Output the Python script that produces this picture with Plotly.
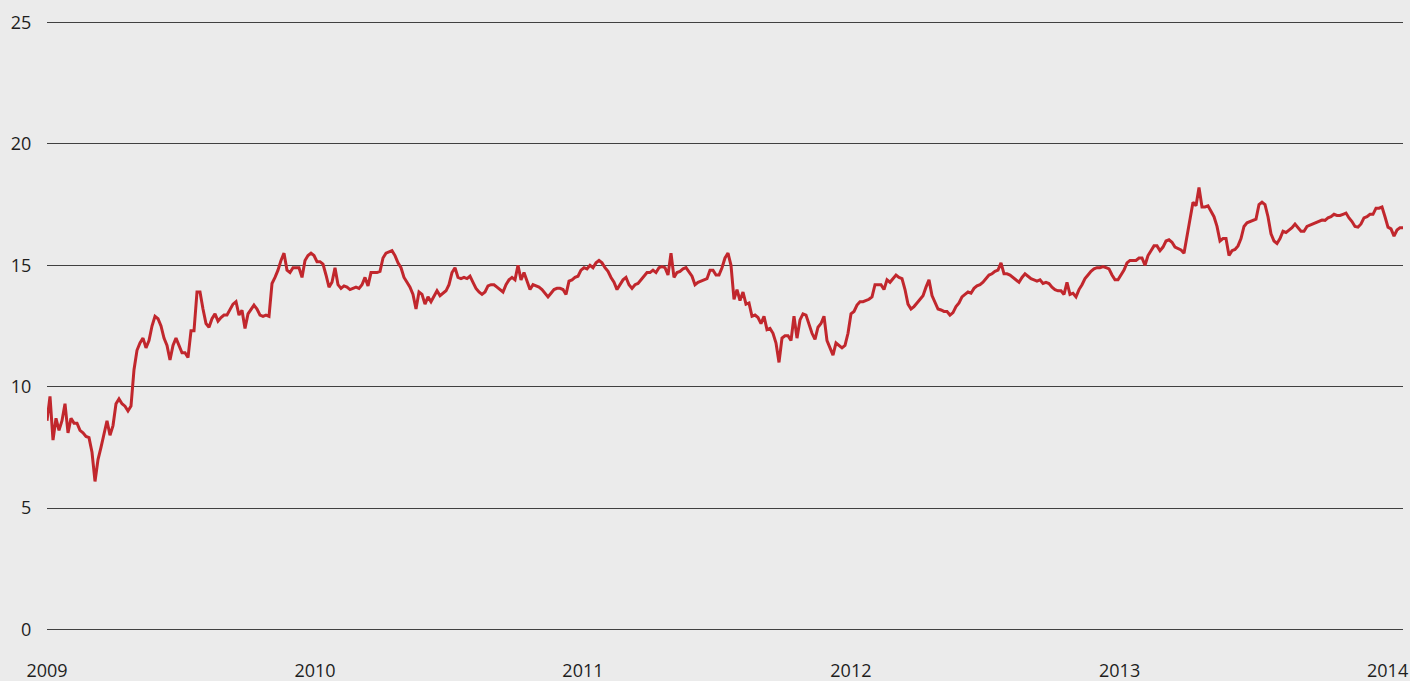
import pandas as pd
import plotly.graph_objects as go

# Share price (approx.), evenly spaced from 2009-01-01 to 2014-01-22
price = [
    8.6, 9.6, 7.8, 8.7, 8.2, 8.6, 9.3, 8.1, 8.7, 8.5,
    8.5, 8.2, 8.1, 7.95, 7.9, 7.3, 6.1, 7.0, 7.5, 8.0,
    8.6, 8.0, 8.4, 9.3, 9.5, 9.3, 9.2, 9.0, 9.2, 10.7,
    11.5, 11.8, 12.0, 11.6, 11.9, 12.5, 12.9, 12.8, 12.5, 12.0,
    11.7, 11.1, 11.7, 12.0, 11.7, 11.4, 11.4, 11.2, 12.3, 12.3,
    13.9, 13.9, 13.2, 12.6, 12.45, 12.8, 13.0, 12.7, 12.85, 12.95,
    12.95, 13.15, 13.4, 13.5, 12.95, 13.15, 12.4, 13.0, 13.2, 13.36,
    13.2, 12.95, 12.9, 12.95, 12.9, 14.25, 14.5, 14.8, 15.2, 15.5,
    14.8, 14.7, 14.9, 14.9, 14.9, 14.5, 15.2, 15.4, 15.5, 15.4,
    15.15, 15.15, 15.05, 14.6, 14.1, 14.3, 14.9, 14.2, 14.05, 14.15,
    14.1, 14.0, 14.05, 14.1, 14.05, 14.2, 14.5, 14.15, 14.7, 14.7,
    14.7, 14.75, 15.3, 15.5, 15.55, 15.6, 15.4, 15.1, 14.9, 14.5,
    14.3, 14.1, 13.8, 13.2, 13.9, 13.8, 13.4, 13.7, 13.5, 13.75,
    13.95, 13.75, 13.85, 13.95, 14.2, 14.7, 14.9, 14.5, 14.45, 14.5,
    14.45, 14.55, 14.3, 14.05, 13.9, 13.8, 13.9, 14.15, 14.2, 14.2,
    14.1, 14.0, 13.9, 14.2, 14.4, 14.5, 14.4, 15.0, 14.4, 14.7,
    14.3, 14.0, 14.2, 14.15, 14.1, 14.0, 13.85, 13.7, 13.85, 14.0,
    14.05, 14.05, 14.0, 13.8, 14.35, 14.4, 14.5, 14.55, 14.8, 14.9,
    14.85, 15.0, 14.9, 15.1, 15.2, 15.1, 14.9, 14.75, 14.5, 14.3,
    14.0, 14.2, 14.4, 14.5, 14.2, 14.05, 14.2, 14.25, 14.4, 14.55,
    14.7, 14.7, 14.8, 14.7, 14.9, 14.95, 14.9, 14.6, 15.5, 14.5,
    14.7, 14.75, 14.85, 14.9, 14.7, 14.55, 14.2, 14.3, 14.35, 14.4,
    14.45, 14.8, 14.8, 14.6, 14.6, 14.9, 15.3, 15.5, 15.0, 13.6,
    14.0, 13.55, 13.9, 13.4, 13.45, 12.9, 12.95, 12.85, 12.6, 12.9,
    12.35, 12.4, 12.2, 11.8, 11.0, 12.0, 12.1, 12.1, 11.9, 12.9,
    12.0, 12.75, 13.0, 12.95, 12.6, 12.2, 11.95, 12.45, 12.6, 12.9,
    11.9, 11.6, 11.3, 11.8, 11.7, 11.6, 11.7, 12.2, 13.0, 13.1,
    13.36, 13.5, 13.5, 13.55, 13.6, 13.7, 14.2, 14.2, 14.2, 14.0,
    14.4, 14.3, 14.45, 14.6, 14.5, 14.45, 14.0, 13.4, 13.2, 13.3,
    13.45, 13.6, 13.75, 14.1, 14.4, 13.75, 13.5, 13.2, 13.16, 13.1,
    13.1, 12.95, 13.05, 13.3, 13.45, 13.7, 13.8, 13.9, 13.85, 14.05,
    14.15, 14.2, 14.3, 14.45, 14.6, 14.65, 14.75, 14.8, 15.1, 14.65,
    14.65, 14.6, 14.5, 14.4, 14.3, 14.5, 14.65, 14.55, 14.45, 14.4,
    14.35, 14.4, 14.25, 14.3, 14.25, 14.1, 14.0, 13.95, 13.95, 13.8,
    14.3, 13.8, 13.85, 13.7, 14.0, 14.2, 14.45, 14.6, 14.75, 14.85,
    14.9, 14.9, 14.95, 14.9, 14.85, 14.6, 14.4, 14.4, 14.6, 14.8,
    15.1, 15.2, 15.2, 15.2, 15.3, 15.3, 15.0, 15.4, 15.6, 15.8,
    15.8, 15.6, 15.75, 16.0, 16.05, 15.95, 15.75, 15.7, 15.63, 15.5,
    16.2, 17.0, 17.6, 17.45, 18.2, 17.4, 17.4, 17.45, 17.2, 17.0,
    16.6, 16.0, 16.1, 16.1, 15.4, 15.6, 15.65, 15.8, 16.1, 16.6,
    16.75, 16.8, 16.85, 16.9, 17.5, 17.6, 17.5, 17.0, 16.3, 16.0,
    15.9, 16.1, 16.4, 16.35, 16.45, 16.55, 16.7, 16.55, 16.4, 16.4,
    16.6, 16.65, 16.7, 16.75, 16.8, 16.86, 16.85, 16.95, 17.0, 17.1,
    17.05, 17.05, 17.1, 17.15, 16.95, 16.8, 16.6, 16.57, 16.7, 16.95,
    17.0, 17.1, 17.1, 17.35, 17.35, 17.4, 17.0, 16.57, 16.5, 16.2,
    16.45, 16.55, 16.55,
]
start_date = "2009-01-01"
end_date = "2014-01-22"
dates = pd.date_range(start_date, end_date, periods=len(price))

year_ticks = ["2009-01-01", "2010-01-01", "2011-01-01", "2012-01-01", "2013-01-01", "2014-01-01"]
year_labels = ["2009", "2010", "2011", "2012", "2013", "2014"]
y_ticks = [0, 5, 10, 15, 20, 25]

fig = go.Figure()
fig.add_trace(go.Scatter(
    x=dates, y=price, mode="lines",
    line=dict(color="#c1272d", width=3),
    hoverinfo="skip",
))

font = dict(family="Open Sans, Noto Sans, sans-serif", size=18, color="#1e1e1e")

fig.update_layout(
    width=1410, height=681,
    margin=dict(l=47, r=7, t=20, b=49, autoexpand=False),
    paper_bgcolor="#ebebeb", plot_bgcolor="#ebebeb",
    showlegend=False,
    font=font,
    xaxis=dict(
        type="date", range=[start_date, end_date],
        tickvals=year_ticks, ticktext=year_labels,
        showgrid=False, zeroline=False, showline=False,
        ticks="outside", ticklen=22, tickcolor="rgba(0,0,0,0)",
        tickfont=font, automargin=False,
    ),
    yaxis=dict(
        range=[-0.1, 25.1], tickvals=y_ticks,
        showgrid=True, gridcolor="#404040", gridwidth=1,
        zeroline=False, showline=False,
        ticks="outside", ticklen=11, tickcolor="rgba(0,0,0,0)",
        tickfont=font, automargin=False,
    ),
)

fig.write_html(
    "out.html",
    config={"displayModeBar": False},
    post_script="document.body.style.margin='0';document.documentElement.style.overflow='hidden';",
)
